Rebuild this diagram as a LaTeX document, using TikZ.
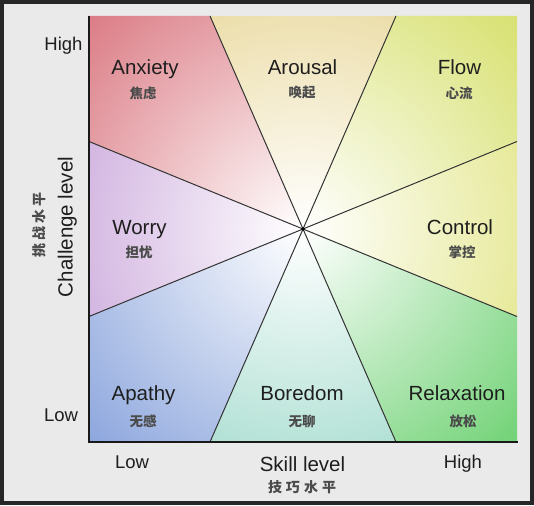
\documentclass[tikz,border=0pt]{standalone}
\usepackage{fontspec}
\setmainfont{Liberation Sans}
\newfontfamily\cjk{Noto Sans CJK SC}
\definecolor{cAnx}{RGB}{216,112,122}
\definecolor{cAro}{RGB}{228,208,135}
\definecolor{cFlow}{RGB}{212,222,100}
\definecolor{cCtl}{RGB}{220,224,110}
\definecolor{cRel}{RGB}{100,206,105}
\definecolor{cBor}{RGB}{145,212,195}
\definecolor{cApa}{RGB}{130,158,218}
\definecolor{cWor}{RGB}{192,150,212}
\definecolor{bgc}{RGB}{234,234,234}
\definecolor{txt}{RGB}{30,30,30}
\newcommand\wedgefill[2]{\begin{scope}\clip #1 -- cycle; \shade[inner color=white, outer color=#2] (C) circle (330);\end{scope}}
\begin{document}
\begin{tikzpicture}[x=1pt,y=1pt,
  divline/.style={draw=black!80, line width=1pt},
  axisline/.style={draw=black!90, line width=2pt},
  lab/.style={font=\fontsize{20.5}{24}\selectfont, text=txt, inner sep=0pt, anchor=base},
  cn/.style={font=\cjk\bfseries\fontsize{13.5}{15}\selectfont, text=txt!80, inner sep=0pt},
  ticklab/.style={font=\fontsize{18.5}{21}\selectfont, text=txt, inner sep=0pt, anchor=base},
  axtitle/.style={font=\fontsize{20.5}{24}\selectfont, text=txt, inner sep=0pt, anchor=base},
]
\useasboundingbox (0,0) rectangle (534,505);
\fill[bgc] (0,0) rectangle (534,505);
\draw[black!85, line width=4pt] (2,2) rectangle (532,503);

\coordinate (C) at (303,276);
\coordinate (TL) at (89,489);
\coordinate (TR) at (517,489);
\coordinate (BL) at (89,63);
\coordinate (BR) at (518,63);
\coordinate (T1) at (210,489);
\coordinate (T2) at (396,489);
\coordinate (B1) at (396,63);
\coordinate (B2) at (210,63);
\coordinate (L1) at (89,363.5);
\coordinate (L2) at (89,188.5);
\coordinate (R1) at (517,188.5);
\coordinate (R2) at (517,363.5);

\wedgefill{(C) -- (L1) -- (TL) -- (T1)}{cAnx}
\wedgefill{(C) -- (T1) -- (T2)}{cAro}
\wedgefill{(C) -- (T2) -- (TR) -- (R2)}{cFlow}
\wedgefill{(C) -- (R2) -- (R1)}{cCtl}
\wedgefill{(C) -- (R1) -- (517,63) -- (B1)}{cRel}
\wedgefill{(C) -- (B1) -- (B2)}{cBor}
\wedgefill{(C) -- (B2) -- (BL) -- (L2)}{cApa}
\wedgefill{(C) -- (L2) -- (L1)}{cWor}

\draw[divline] (T1) -- (B1);
\draw[divline] (T2) -- (B2);
\draw[divline] (L1) -- (R1);
\draw[divline] (L2) -- (R2);
\draw[axisline] (TL) -- (BL) -- (BR);
\fill[black] (C) circle (1.8);

\node[lab] (anx) at (145,430) {Anxiety};
\node[cn] (anxc) at (143,412) {焦虑};
\node[lab] (aro) at (302.5,430) {Arousal};
\node[cn] (aroc) at (302,412) {唤起};
\node[lab] (flow) at (459.5,430) {Flow};
\node[cn] (flowc) at (459,412) {心流};
\node[lab] (wor) at (139.5,270) {Worry};
\node[cn] (worc) at (139,253) {担忧};
\node[lab] (ctl) at (460,270) {Control};
\node[cn] (ctlc) at (462,253) {掌控};
\node[lab] (apa) at (143.5,104) {Apathy};
\node[cn] (apac) at (143,84) {无感};
\node[lab] (bor) at (302,104) {Boredom};
\node[cn] (borc) at (302,84) {无聊};
\node[lab] (rel) at (457,104) {Relaxation};
\node[cn] (relc) at (463,84) {放松};

\node[ticklab] (yhigh) at (63.5,454) {High};
\node[ticklab] (ylow) at (61,83) {Low};
\node[ticklab] (xlow) at (132,37) {Low};
\node[ticklab] (xhigh) at (463,37) {High};
\node[axtitle] (xt) at (302.5,34) {Skill level};
\node[cn, font=\cjk\bfseries\fontsize{14}{16}\selectfont] (xtc) at (302,18) {技\hspace{4pt}巧\hspace{4pt}水\hspace{4pt}平};
\node[axtitle, rotate=90] (yt) at (72.5,278) {Challenge level};
\node[cn, rotate=90, font=\cjk\bfseries\fontsize{14}{16}\selectfont] (ytc) at (39,280) {挑\hspace{3pt}战\hspace{3pt}水\hspace{3pt}平};
\end{tikzpicture}
\end{document}
